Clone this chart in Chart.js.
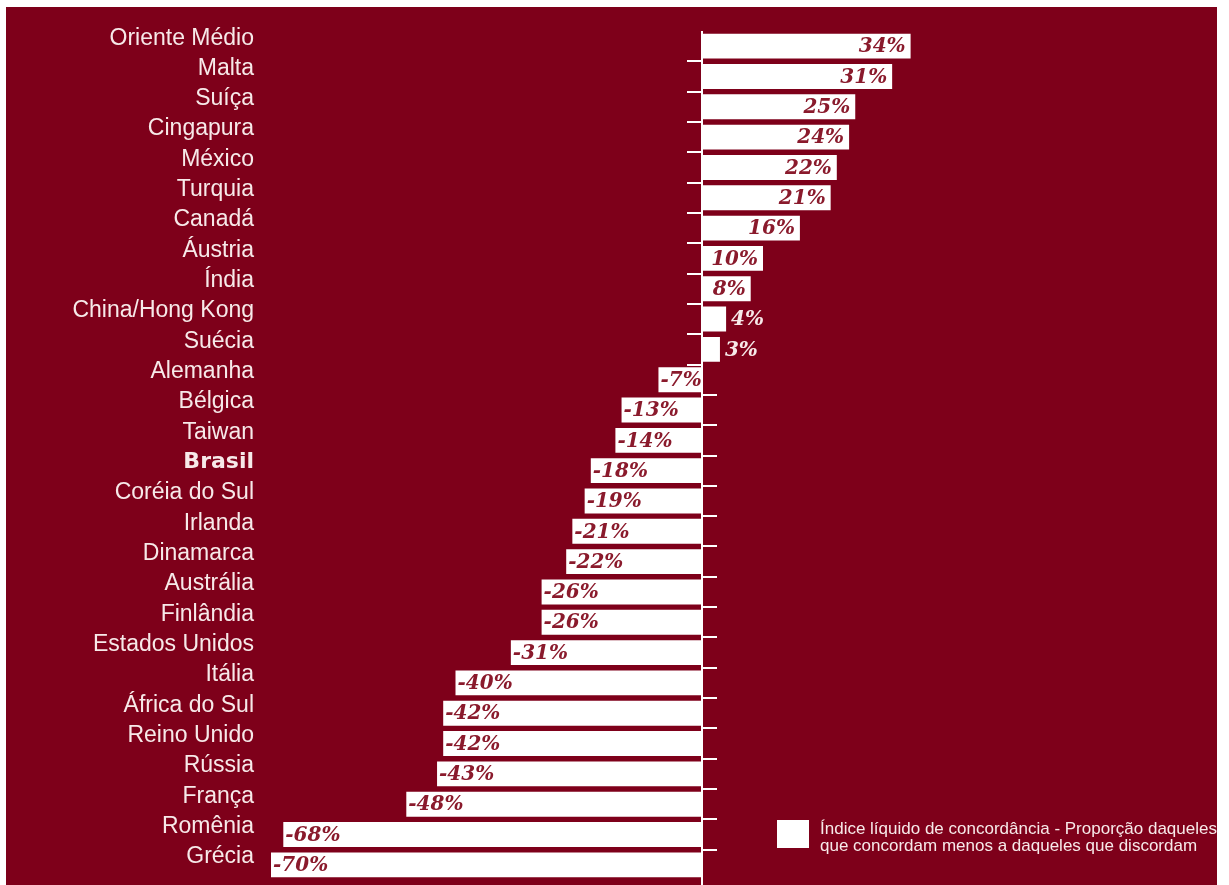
<!DOCTYPE html>
<html>
<head>
<meta charset="utf-8">
<script src="https://cdn.jsdelivr.net/npm/chart.js@4.4.0/dist/chart.umd.min.js"></script>
<style>
  html, body { margin: 0; padding: 0; background: #fff; }
  #wrap { position: absolute; left: 6px; top: 7px; width: 1211px; height: 878px; background: #7e001a; }
</style>
</head>
<body>
<div id="wrap"><canvas id="chart" width="1211" height="878"></canvas></div>
<script>
// Data
const countries = [
  "Oriente Médio", "Malta", "Suíça", "Cingapura", "México", "Turquia", "Canadá",
  "Áustria", "Índia", "China/Hong Kong", "Suécia", "Alemanha", "Bélgica", "Taiwan",
  "Brasil", "Coréia do Sul", "Irlanda", "Dinamarca", "Austrália", "Finlândia",
  "Estados Unidos", "Itália", "África do Sul", "Reino Unido", "Rússia", "França",
  "Romênia", "Grécia"
];
const netIndex = [
  34, 31, 25, 24, 22, 21, 16, 10, 8, 4, 3, -7, -13, -14,
  -18, -19, -21, -22, -26, -26, -31, -40, -42, -42, -43, -48, -68, -70
];
const legendLines = [
  "Índice líquido de concordância - Proporção daqueles",
  "que concordam menos a daqueles que discordam"
];
const highlight = "Brasil";
const xMin = -70, xMax = 80;

const INK = "#8a1a2c";
const LIGHT = "#f7e9e9";

// zero axis line + little ticks between bars
const axisPlugin = {
  id: "zeroAxis",
  afterDatasetsDraw(chart) {
    const { ctx, chartArea, scales } = chart;
    const x0 = Math.round(scales.x.getPixelForValue(0));
    const y = scales.y;
    ctx.save();
    ctx.strokeStyle = "#fff";
    ctx.lineWidth = 2;
    ctx.beginPath();
    ctx.moveTo(x0, chartArea.top);
    ctx.lineTo(x0, chart.height);
    ctx.stroke();
    for (let i = 0; i < netIndex.length - 1; i++) {
      const yb = Math.round((y.getPixelForValue(i) + y.getPixelForValue(i + 1)) / 2);
      const dir = netIndex[i] >= 0 ? -1 : 1;
      ctx.beginPath();
      ctx.moveTo(x0, yb);
      ctx.lineTo(x0 + dir * 15, yb);
      ctx.stroke();
    }
    ctx.restore();
  }
};

// value labels on the bars
const valuePlugin = {
  id: "values",
  afterDatasetsDraw(chart) {
    const { ctx } = chart;
    const bars = chart.getDatasetMeta(0).data;
    ctx.save();
    ctx.font = "italic bold 20px 'DejaVu Serif'";
    ctx.textBaseline = "middle";
    bars.forEach((bar, i) => {
      const v = netIndex[i];
      const txt = v + "%";
      const tw = ctx.measureText(txt).width;
      const len = Math.abs(bar.x - bar.base);
      if (tw > len) {
        ctx.fillStyle = LIGHT;
        ctx.textAlign = "left";
        ctx.fillText(txt, bar.x + 5, bar.y + 1);
      } else if (v >= 0) {
        ctx.fillStyle = INK;
        ctx.textAlign = "right";
        ctx.fillText(txt, bar.x - 5, bar.y + 1);
      } else {
        ctx.fillStyle = INK;
        ctx.textAlign = "left";
        ctx.fillText(txt, bar.x + 2, bar.y + 1);
      }
    });
    ctx.restore();
  }
};

// legend box, bottom right
const legendPlugin = {
  id: "legendBox",
  afterDraw(chart) {
    const { ctx } = chart;
    ctx.save();
    ctx.fillStyle = "#fff";
    ctx.fillRect(771, 813, 32, 28);
    ctx.fillStyle = LIGHT;
    ctx.font = "17px 'Liberation Sans'";
    ctx.textBaseline = "middle";
    ctx.textAlign = "left";
    legendLines.forEach((l, i) => ctx.fillText(l, 814, 822 + i * 17));
    ctx.restore();
  }
};

new Chart(document.getElementById("chart"), {
  type: "bar",
  data: {
    labels: countries,
    datasets: [{
      label: legendLines.join(" "),
      data: netIndex,
      backgroundColor: "#fff",
      borderWidth: 0,
      barPercentage: 0.82,
      categoryPercentage: 1
    }]
  },
  options: {
    indexAxis: "y",
    responsive: false,
    animation: false,
    layout: { padding: { top: 24, bottom: 5, left: 0, right: 23.5 } },
    scales: {
      x: { display: false, min: xMin, max: xMax },
      y: {
        grid: { display: false, drawTicks: false },
        border: { display: false },
        afterFit: (s) => { s.width = 265; s.paddingTop = 0; s.paddingBottom = 0; },
        ticks: {
          autoSkip: false,
          padding: 17,
          labelOffset: -8,
          color: LIGHT,
          font: (c) => countries[c.index] === highlight
            ? { family: "DejaVu Sans", size: 22, weight: "bold" }
            : { family: "Liberation Sans", size: 23 }
        }
      }
    },
    plugins: { legend: { display: false }, tooltip: { enabled: false } }
  },
  plugins: [axisPlugin, valuePlugin, legendPlugin]
});
</script>
</body>
</html>
